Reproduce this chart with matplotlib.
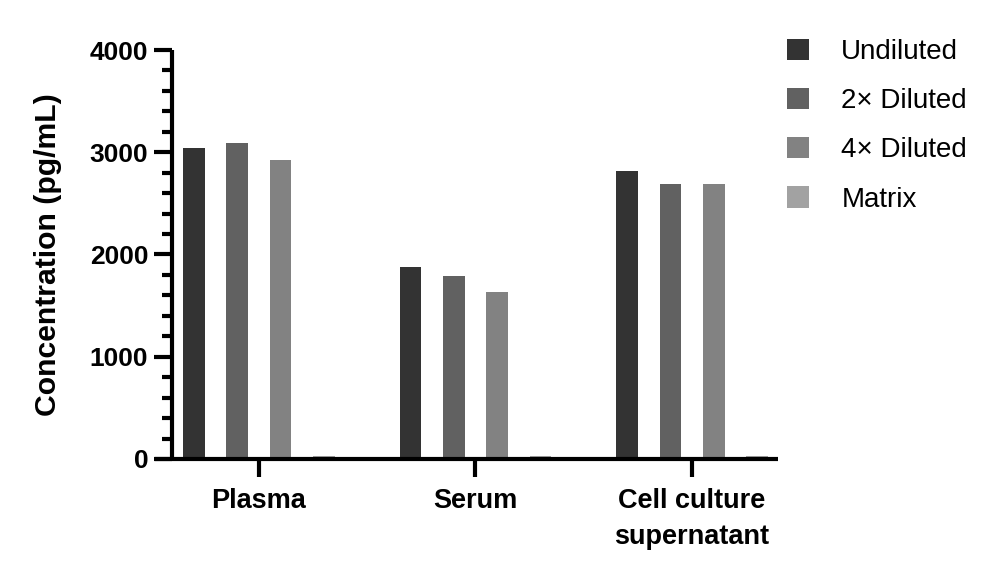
import matplotlib.pyplot as plt
from matplotlib.patches import Patch
from matplotlib.ticker import MultipleLocator

plt.rcParams['font.family'] = ['Liberation Sans', 'DejaVu Sans']

samples = ["Plasma", "Serum", "Cell culture\nsupernatant"]
series = ["Undiluted", "2\u00d7 Diluted", "4\u00d7 Diluted", "Matrix"]
undiluted = [3040, 1878, 2815]
diluted_2x = [3090, 1790, 2690]
diluted_4x = [2925, 1633, 2690]
matrix = [30, 30, 30]
values = [undiluted, diluted_2x, diluted_4x, matrix]
colors = ["#333333", "#616161", "#828282", "#a2a2a2"]

fig = plt.figure(figsize=(10.01, 5.70), dpi=100)
ax = fig.add_axes([155 / 1001, 111 / 570, 623 / 1001, 409 / 570])

offsets = [-0.3, -0.1, 0.1, 0.3]
for vals, off, c, name in zip(values, offsets, colors, series):
    ax.bar([i + off for i in range(len(samples))], vals, width=0.1,
           color=c, label=name, zorder=2)

ax.set_xlim(-0.48, 2.397)
ax.set_ylim(0, 4000)
ax.spines['top'].set_visible(False)
ax.spines['right'].set_visible(False)
ax.spines['left'].set_position(('data', -0.402))
for s in ('left', 'bottom'):
    ax.spines[s].set_linewidth(3)
    ax.spines[s].set_capstyle('butt')

ax.yaxis.set_major_locator(MultipleLocator(1000))
ax.yaxis.set_minor_locator(MultipleLocator(200))
ax.tick_params(axis='y', which='major', length=13, width=3, labelsize=19, pad=4)
ax.tick_params(axis='y', which='minor', length=7, width=3)
ax.tick_params(axis='x', which='major', length=13, width=3, labelsize=19.5, pad=8)
ax.set_xticks(range(len(samples)))
ax.set_xticklabels(samples, fontweight='bold', linespacing=1.5)
for lbl in ax.get_yticklabels():
    lbl.set_fontweight('bold')
ax.set_ylabel("Concentration (pg/mL)", fontsize=21.7, fontweight='bold', labelpad=20)

handles = [Patch(facecolor=c, edgecolor='none') for c in colors]
fig.legend(handles, series, loc='upper left', bbox_to_anchor=(776 / 1001, 1 - 28 / 570),
           frameon=False, fontsize=20, handlelength=0.8, handleheight=0.8,
           handletextpad=1.15, labelspacing=0.82, borderaxespad=0)

fig.savefig("out.png", dpi=100)
